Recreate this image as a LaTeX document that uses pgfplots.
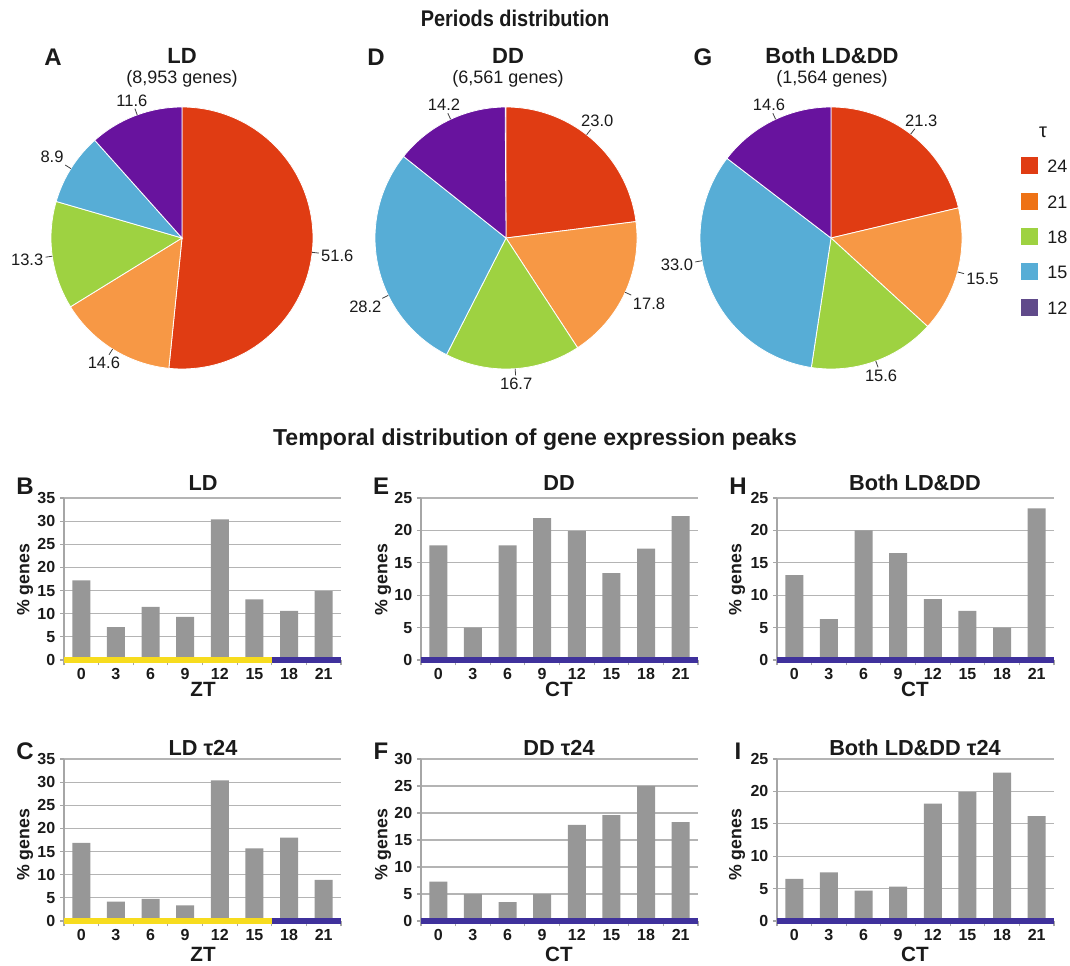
\documentclass[border=0pt]{standalone}
\usepackage{pgfplots}
\pgfplotsset{compat=1.18}
\usepackage{fontspec}
\setmainfont{Liberation Sans}
\definecolor{pred}{HTML}{E03C13}
\definecolor{porange}{HTML}{F79845}
\definecolor{pgreen}{HTML}{9ED241}
\definecolor{pblue}{HTML}{57ADD6}
\definecolor{ppurple}{HTML}{68139E}
\definecolor{lorange}{HTML}{EE7215}
\definecolor{lpurple}{HTML}{604A8A}
\definecolor{bargray}{HTML}{979797}
\definecolor{gridgray}{HTML}{B4B4B4}
\definecolor{axisgray}{HTML}{A6A6A6}
\definecolor{bandyellow}{HTML}{F7DC1E}
\definecolor{bandpurple}{HTML}{3F319C}
\definecolor{txt}{HTML}{1A1A1A}
\definecolor{labgray}{HTML}{404040}
\newcommand\fs[1]{\fontsize{#1}{#1}\selectfont}
\newcommand\pielabfont{\fs{12.4}}
% pie slice: value, colour (cumulative start kept in \cum)
\def\cum{0}
\newcommand\slice[2]{%
  \pgfmathsetmacro\aA{90-3.6*(\cum+#1)}%
  \pgfmathsetmacro\aB{90-3.6*\cum}%
  \pgfmathsetmacro\newcum{\cum+#1}%
  \xdef\cum{\newcum}%
  \edef\tmp{\noexpand\addplot[fill=#2, draw=white, line width=0.6pt, domain=\aA:\aB, samples=90] ({cos(x)},{sin(x)}) -- (axis cs:0,0) -- cycle;}%
  \tmp}
\newcommand\plab[2]{%
  \pgfmathtruncatemacro\anc{#1+180}%
  \edef\tmp{\noexpand\draw[labgray, line width=0.6pt] (axis cs:0,0) ++(#1:98.25pt) -- ++(#1:5pt) node[anchor=\anc, inner sep=1.5pt, font=\noexpand\pielabfont, text=txt] {#2};}%
  \tmp}
\pgfplotsset{
  pieax/.style={hide axis, x=98.25pt, y=98.25pt, xmin=-1.4, xmax=1.4, ymin=-1.4, ymax=1.4, anchor=center, clip=false},
  barax/.style={
    scale only axis, width=207.75pt, height=121.5pt, anchor=south west,
    xmin=-0.5, xmax=7.5, ymin=0,
    axis x line*=bottom, axis y line*=left,
    axis line style={draw=axisgray, line width=0.8pt},
    xtick={0,...,7}, xticklabels={0,3,6,9,12,15,18,21},
    major x tick style={draw=none},
    minor xtick={-0.5,0.5,...,7.5},
    minor x tick style={draw=axisgray, line width=0.8pt},
    minor tick length=4pt, major tick length=3pt,
    tick align=outside,
    ytick distance=5,
    ymajorgrids, grid style={draw=gridgray, line width=0.8pt},
    major y tick style={draw=axisgray, line width=0.8pt},
    tick label style={font=\bfseries\fs{12}, text=txt},
    /pgf/number format/assume math mode=true,
    clip=false,
  },
}
\begin{document}
\begin{tikzpicture}[x=0.75pt, y=0.75pt]
\path[use as bounding box] (0,0) rectangle (1070,965);

% ---------- titles ----------
\node[font=\bfseries\fs{17}, text=txt] at (515,947) {\scalebox{0.88}[1]{Periods distribution}};
\node[font=\bfseries\fs{17.3}, text=txt] at (535,525) {Temporal distribution of gene expression peaks};

% ---------- pies ----------
\node[font=\bfseries\fs{18}, text=txt] at (53,908) {A};
\node[font=\bfseries\fs{18}, text=txt] at (376,908) {D};
\node[font=\bfseries\fs{18}, text=txt] at (703,908) {G};
\node[font=\bfseries\fs{16.5}, text=txt, inner sep=1pt] at (182,909) {LD};
\node[font=\fs{13.5}, text=txt, inner sep=1pt] at (182,886) {(8,953 genes)};
\node[font=\bfseries\fs{16.5}, text=txt, inner sep=1pt] at (508,909) {DD};
\node[font=\fs{13.5}, text=txt, inner sep=1pt] at (508,886) {(6,561 genes)};
\node[font=\bfseries\fs{16.5}, text=txt, inner sep=1pt] at (832,909) {Both LD\&DD};
\node[font=\fs{13.5}, text=txt, inner sep=1pt] at (832,886) {(1,564 genes)};

\begin{axis}[pieax, at={(182*0.75pt,727*0.75pt)}]
\def\cum{0}
\slice{51.6}{pred}\slice{14.6}{porange}\slice{13.3}{pgreen}\slice{8.9}{pblue}\slice{11.6}{ppurple}
\plab{-6.3}{51.6}\plab{-122}{14.6}\plab{188}{13.3}\plab{148}{8.9}\plab{110}{11.6}
\end{axis}

\begin{axis}[pieax, at={(506*0.75pt,727*0.75pt)}]
\def\cum{0}
\slice{23.0}{pred}\slice{17.8}{porange}\slice{16.7}{pgreen}\slice{28.2}{pblue}\slice{14.2}{ppurple}
\plab{52}{23.0}\plab{-24.5}{17.8}\plab{-86}{16.7}\plab{206}{28.2}\plab{115}{14.2}
\end{axis}

\begin{axis}[pieax, at={(831*0.75pt,727*0.75pt)}]
\def\cum{0}
\slice{21.3}{pred}\slice{15.5}{porange}\slice{15.6}{pgreen}\slice{33.0}{pblue}\slice{14.6}{ppurple}
\plab{52.5}{21.3}\plab{-15}{15.5}\plab{-70}{15.6}\plab{190}{33.0}\plab{115}{14.6}
\end{axis}

% legend
\node[font=\fs{15}, text=txt] at (1043,833) {τ};
\foreach \yy/\cc/\ll in {799/pred/24, 763/lorange/21, 728/pgreen/18, 693/pblue/15, 657/lpurple/12}{
  \fill[\cc] (1021,\yy-8.5) rectangle (1038,\yy+8.5);
  \node[anchor=west, font=\fs{13.5}, text=txt, inner sep=0pt] at (1047,\yy) {\ll};
}

% ---------- bar panels: labels ----------
\foreach \xl/\xt/\xc/\lab/\ttl/\yb/\xlab in {
  25/203/25/B/LD/0/ZT, 381/559/383/E/DD/0/CT, 738/915/737/H/Both LD\&DD/0/CT,
  25/203/25/C/LD τ24/1/ZT, 381/559/383/F/DD τ24/1/CT, 738/915/737/I/Both LD\&DD τ24/1/CT}{
  \pgfmathsetmacro\dy{\yb*(-265)}
  \node[font=\bfseries\fs{18}, text=txt] at (\xl,479+\dy) {\lab};
  \node[font=\bfseries\fs{16.3}, text=txt] at (\xt,482+\dy) {\ttl};
  \node[font=\bfseries\fs{13.3}, text=txt, rotate=90] at (\xc,385+\dy) {\% genes};
  \node[font=\bfseries\fs{15.5}, text=txt] at (\xt,276+\dy) {\xlab};
}

% B: LD
\begin{axis}[barax, at={(64*0.75pt,305*0.75pt)}, ymax=35]
\addplot[ybar, bar width=13.5pt, fill=bargray, draw=none] coordinates {(0,17.2)(1,7.1)(2,11.5)(3,9.3)(4,30.4)(5,13.1)(6,10.6)(7,14.9)};
\addplot[bandyellow, line width=3.8pt, no marks] coordinates {(-0.5,0)(5.5,0)};
\addplot[bandpurple, line width=3.8pt, no marks] coordinates {(5.5,0)(7.5,0)};
\end{axis}
% E: DD
\begin{axis}[barax, at={(421*0.75pt,305*0.75pt)}, ymax=25]
\addplot[ybar, bar width=13.5pt, fill=bargray, draw=none] coordinates {(0,17.7)(1,5.0)(2,17.7)(3,21.9)(4,19.9)(5,13.4)(6,17.2)(7,22.2)};
\addplot[bandpurple, line width=3.8pt, no marks] coordinates {(-0.5,0)(7.5,0)};
\end{axis}
% H: Both
\begin{axis}[barax, at={(777*0.75pt,305*0.75pt)}, ymax=25]
\addplot[ybar, bar width=13.5pt, fill=bargray, draw=none] coordinates {(0,13.1)(1,6.3)(2,20.0)(3,16.5)(4,9.4)(5,7.6)(6,5.0)(7,23.4)};
\addplot[bandpurple, line width=3.8pt, no marks] coordinates {(-0.5,0)(7.5,0)};
\end{axis}
% C: LD tau24
\begin{axis}[barax, at={(64*0.75pt,44*0.75pt)}, ymax=35]
\addplot[ybar, bar width=13.5pt, fill=bargray, draw=none] coordinates {(0,16.9)(1,4.2)(2,4.8)(3,3.4)(4,30.4)(5,15.7)(6,18.0)(7,8.9)};
\addplot[bandyellow, line width=3.8pt, no marks] coordinates {(-0.5,0)(5.5,0)};
\addplot[bandpurple, line width=3.8pt, no marks] coordinates {(5.5,0)(7.5,0)};
\end{axis}
% F: DD tau24
\begin{axis}[barax, at={(421*0.75pt,44*0.75pt)}, ymax=30]
\addplot[ybar, bar width=13.5pt, fill=bargray, draw=none] coordinates {(0,7.3)(1,5.0)(2,3.5)(3,5.0)(4,17.8)(5,19.6)(6,25.0)(7,18.3)};
\addplot[bandpurple, line width=3.8pt, no marks] coordinates {(-0.5,0)(7.5,0)};
\end{axis}
% I: Both tau24
\begin{axis}[barax, at={(777*0.75pt,44*0.75pt)}, ymax=25]
\addplot[ybar, bar width=13.5pt, fill=bargray, draw=none] coordinates {(0,6.5)(1,7.5)(2,4.7)(3,5.3)(4,18.1)(5,19.9)(6,22.9)(7,16.2)};
\addplot[bandpurple, line width=3.8pt, no marks] coordinates {(-0.5,0)(7.5,0)};
\end{axis}
\end{tikzpicture}
\end{document}
